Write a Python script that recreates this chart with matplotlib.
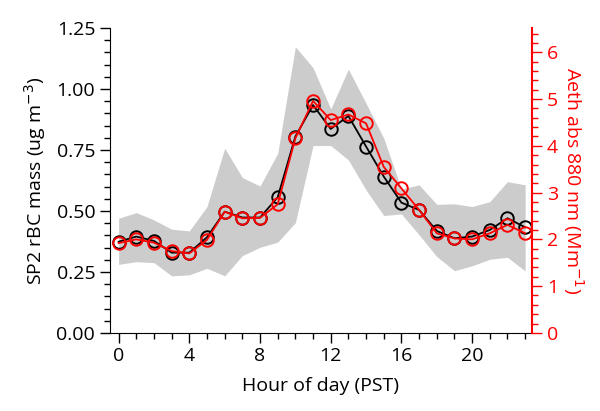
"""
Diurnal cycle of SP2 rBC mass and Aethalometer absorption at 880 nm.
"""
import matplotlib
matplotlib.use("Agg")
import matplotlib.pyplot as plt
from matplotlib.ticker import MultipleLocator

plt.rcParams["font.family"] = ["Open Sans", "DejaVu Sans"]

hours = list(range(24))
sp2_mass = [0.374, 0.395, 0.377, 0.329, 0.329, 0.392, 0.497, 0.473, 0.473, 0.556,
            0.805, 0.934, 0.836, 0.889, 0.764, 0.641, 0.534, 0.504, 0.418, 0.388,
            0.395, 0.422, 0.470, 0.433]
sp2_upper = [0.470, 0.493, 0.463, 0.425, 0.418, 0.518, 0.757, 0.637, 0.602, 0.736,
             1.173, 1.087, 0.918, 1.081, 0.941, 0.798, 0.589, 0.607, 0.527, 0.529,
             0.518, 0.538, 0.620, 0.607]
sp2_lower = [0.281, 0.292, 0.288, 0.234, 0.238, 0.265, 0.234, 0.317, 0.351, 0.372,
             0.452, 0.768, 0.768, 0.709, 0.586, 0.481, 0.488, 0.402, 0.313, 0.255,
             0.275, 0.302, 0.310, 0.254]
aeth_abs = [1.92, 2.00, 1.93, 1.75, 1.70, 1.99, 2.59, 2.45, 2.46, 2.75,
            4.16, 4.96, 4.55, 4.67, 4.48, 3.55, 3.09, 2.63, 2.13, 2.02,
            2.00, 2.13, 2.31, 2.13]

fig = plt.figure(figsize=(6.0, 4.11), dpi=100)
ax = fig.add_axes([0.183, 0.190, 0.704, 0.742])

ax.fill_between(hours, sp2_lower, sp2_upper, color="#cccccc", linewidth=0)
ax.plot(hours, sp2_mass, color="black", lw=1.3, marker="o", ms=9,
        mfc="none", mec="black", mew=1.4)
ax.set_xlim(-0.5, 23.4)
ax.set_ylim(0, 1.25)
ax.xaxis.set_major_locator(MultipleLocator(4))
ax.xaxis.set_minor_locator(MultipleLocator(1))
ax.yaxis.set_major_locator(MultipleLocator(0.25))
ax.yaxis.set_minor_locator(MultipleLocator(0.05))
ax.yaxis.set_major_formatter(lambda v, p: "%.2f" % v)
ax.spines["top"].set_visible(False)
ax.spines["right"].set_visible(False)
ax.tick_params(which="major", length=7, width=1, labelsize=14)
ax.tick_params(which="minor", length=4, width=1)
ax.set_xlabel("Hour of day (PST)", fontsize=14, labelpad=8)
ax.set_ylabel("SP2 rBC mass (ug m$^{-3}$)", fontsize=14, labelpad=6)

ax2 = ax.twinx()
ax2.plot(hours, aeth_abs, color="red", lw=1.3, marker="o", ms=9,
         mfc="none", mec="red", mew=1.4)
ax2.set_ylim(0, 6.52)
ax2.yaxis.set_major_locator(MultipleLocator(1))
ax2.yaxis.set_minor_locator(MultipleLocator(0.2))
for s in ["top", "left", "bottom"]:
    ax2.spines[s].set_visible(False)
ax2.spines["right"].set_color("red")
ax2.spines["right"].set_linewidth(1.5)
ax2.tick_params(which="major", colors="red", length=7, width=1, labelsize=14)
ax2.tick_params(which="minor", colors="red", length=4, width=1)
ax2.set_ylabel("Aeth abs 880 nm (Mm$^{-1}$)", color="red", fontsize=14,
               rotation=270, labelpad=20)

fig.savefig("out.png", dpi=100)
